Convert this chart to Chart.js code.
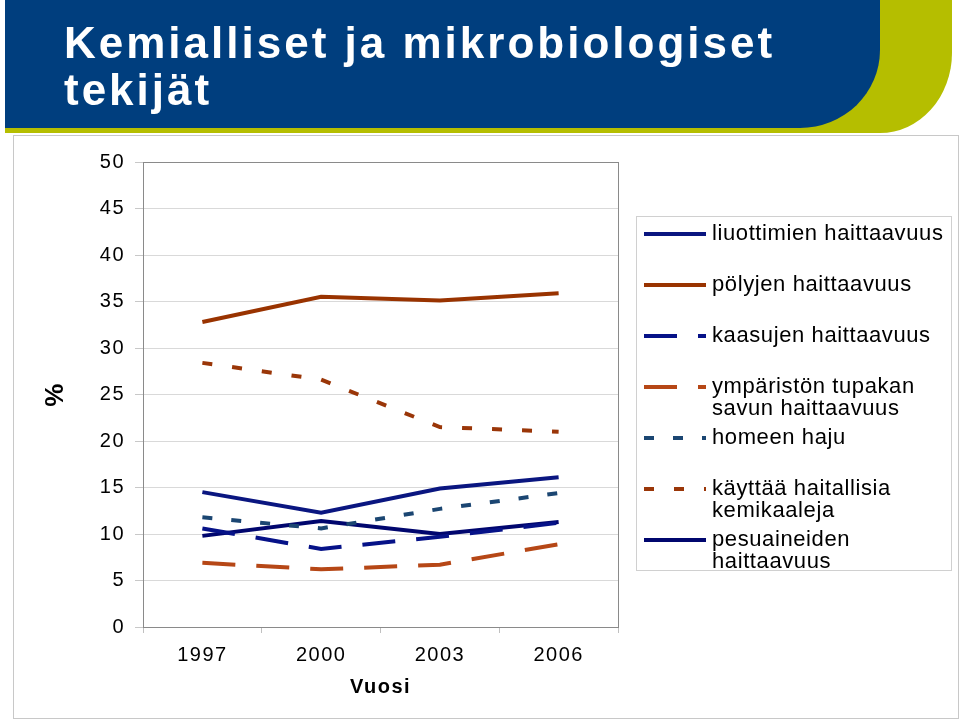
<!DOCTYPE html>
<html>
<head>
<meta charset="utf-8">
<script src="https://cdn.jsdelivr.net/npm/chart.js@4"></script>
<style>
  html, body { margin: 0; padding: 0; background: #fff; }
  body { width: 960px; height: 721px; position: relative; overflow: hidden; font-family: "Liberation Sans", Arial, sans-serif; }
  #chart { position: absolute; left: 0; top: 0; }
  .frame { position: absolute; left: 13px; top: 135px; width: 944px; height: 582px; border: 1px solid #c8c8c8; }
  .green { position: absolute; left: 5px; top: 0; width: 947px; height: 133px; background: #b5be00; border-bottom-right-radius: 72px 80px; }
  .blue { position: absolute; left: 5px; top: 0; width: 875px; height: 128px; background: #003e7e; border-bottom-right-radius: 80px 78px; }
  .title { position: absolute; left: 64px; top: 19px; color: #fff; font-weight: bold; font-size: 44px; line-height: 47px; letter-spacing: 3px; }
  #legend { position: absolute; left: 636px; top: 216px; width: 316px; height: 355px; border: 1px solid #d0d0d0; background: #fff; padding-top: 5px; box-sizing: border-box; }
  .item { position: relative; height: 51px; }
  .item svg { position: absolute; left: 6px; top: 9px; }
  .item span { position: absolute; left: 75px; top: 0; font-size: 22px; line-height: 22px; letter-spacing: 0.6px; color: #000; white-space: nowrap; }
</style>
</head>
<body>
<canvas id="chart" width="960" height="721"></canvas>
<div class="frame"></div>
<div class="green"></div>
<div class="blue"></div>
<div class="title">Kemialliset ja mikrobiologiset<br>tekijät</div>
<div id="legend"></div>
<script>
// vuodet
const years = ['1997', '2000', '2003', '2006'];

// prosenttiosuudet
const liuottimien = [14.5, 12.3, 14.9, 16.1];
const polyjen = [32.8, 35.5, 35.1, 35.9];
const kaasujen = [10.6, 8.4, 9.7, 11.2];
const tupakansavu = [6.9, 6.2, 6.7, 8.9];
const homeenHaju = [11.8, 10.6, 12.7, 14.4];
const kemikaalit = [28.4, 26.6, 21.5, 21.0];
const pesuaineiden = [9.8, 11.4, 10.0, 11.3];

const yTicks = { min: 0, max: 50, step: 5 };

const datasets = [
    { label: ['liuottimien haittaavuus'], data: liuottimien, borderColor: '#0a1680', borderDash: [] },
    { label: ['pölyjen haittaavuus'], data: polyjen, borderColor: '#993300', borderDash: [] },
    { label: ['kaasujen haittaavuus'], data: kaasujen, borderColor: '#061288', borderDash: [33, 21] },
    { label: ['ympäristön tupakan', 'savun haittaavuus'], data: tupakansavu, borderColor: '#b64716', borderDash: [33, 21] },
    { label: ['homeen haju'], data: homeenHaju, borderColor: '#1b4672', borderDash: [10, 19] },
    { label: ['käyttää haitallisia', 'kemikaaleja'], data: kemikaalit, borderColor: '#9a3608', borderDash: [10, 20] },
    { label: ['pesuaineiden', 'haittaavuus'], data: pesuaineiden, borderColor: '#00066e', borderDash: [] }
];

// hieman leveämpi teksti kuten kuvassa
const spacing = {
    id: 'spacing',
    beforeLayout(chart) { chart.ctx.letterSpacing = '1.5px'; },
    beforeDraw(chart) { chart.ctx.letterSpacing = '1.5px'; }
};

// harmaa kehys piirtoalueen ympärille
const plotBorder = {
    id: 'plotBorder',
    beforeDatasetsDraw(chart) {
        const a = chart.chartArea;
        const ctx = chart.ctx;
        ctx.save();
        ctx.strokeStyle = '#8a8a8a';
        ctx.lineWidth = 1;
        ctx.strokeRect(Math.round(a.left) + 0.5, Math.round(a.top) + 0.5, Math.round(a.right - a.left), Math.round(a.bottom - a.top));
        ctx.restore();
    }
};

const ctx = document.getElementById('chart').getContext('2d');
new Chart(ctx, {
    type: 'line',
    data: {
        labels: years,
        datasets: datasets.map(d => ({
            label: d.label.join(' '),
            data: d.data,
            borderColor: d.borderColor,
            backgroundColor: d.borderColor,
            borderDash: d.borderDash,
            borderWidth: 4,
            borderCapStyle: 'butt',
            pointRadius: 0,
            tension: 0,
            fill: false
        }))
    },
    options: {
        responsive: false,
        animation: false,
        layout: { padding: { top: 162, right: 342, bottom: 0, left: 0 } },
        plugins: { legend: { display: false }, tooltip: { enabled: false } },
        scales: {
            x: {
                offset: true,
                grid: { offset: true, drawOnChartArea: false, tickLength: 6, tickColor: '#c0c0c0' },
                border: { color: '#8a8a8a' },
                ticks: { color: '#000', font: { family: 'Liberation Sans', size: 20 }, padding: 10 },
                title: { display: true, text: 'Vuosi', color: '#000', font: { family: 'Liberation Sans', size: 20, weight: 'bold' }, padding: { top: 0, bottom: 22 } },
                afterFit(scale) { scale.height = 94; }
            },
            y: {
                min: yTicks.min,
                max: yTicks.max,
                grid: { color: '#d9d9d9', tickLength: 8, tickColor: '#c8c8c8' },
                border: { color: '#8a8a8a' },
                ticks: { stepSize: yTicks.step, color: '#000', font: { family: 'Liberation Sans', size: 20 }, padding: 10 },
                title: { display: true, text: '%', color: '#000', font: { family: 'Liberation Sans', size: 26, weight: 'bold' }, padding: { top: 40, bottom: 0 } },
                afterFit(scale) { scale.width = 143; }
            }
        }
    },
    plugins: [spacing, plotBorder]
});

// selite oikealle
const legend = document.getElementById('legend');
datasets.forEach(d => {
    const row = document.createElement('div');
    row.className = 'item';
    const dash = d.borderDash.length ? d.borderDash.join(' ') : 'none';
    row.innerHTML = '<svg width="64" height="6"><line x1="1" y1="3" x2="63" y2="3" stroke="' + d.borderColor +
        '" stroke-width="4" stroke-linecap="butt" stroke-dasharray="' + dash + '"/></svg>' +
        '<span>' + d.label.join('<br>') + '</span>';
    legend.appendChild(row);
});
</script>
</body>
</html>
